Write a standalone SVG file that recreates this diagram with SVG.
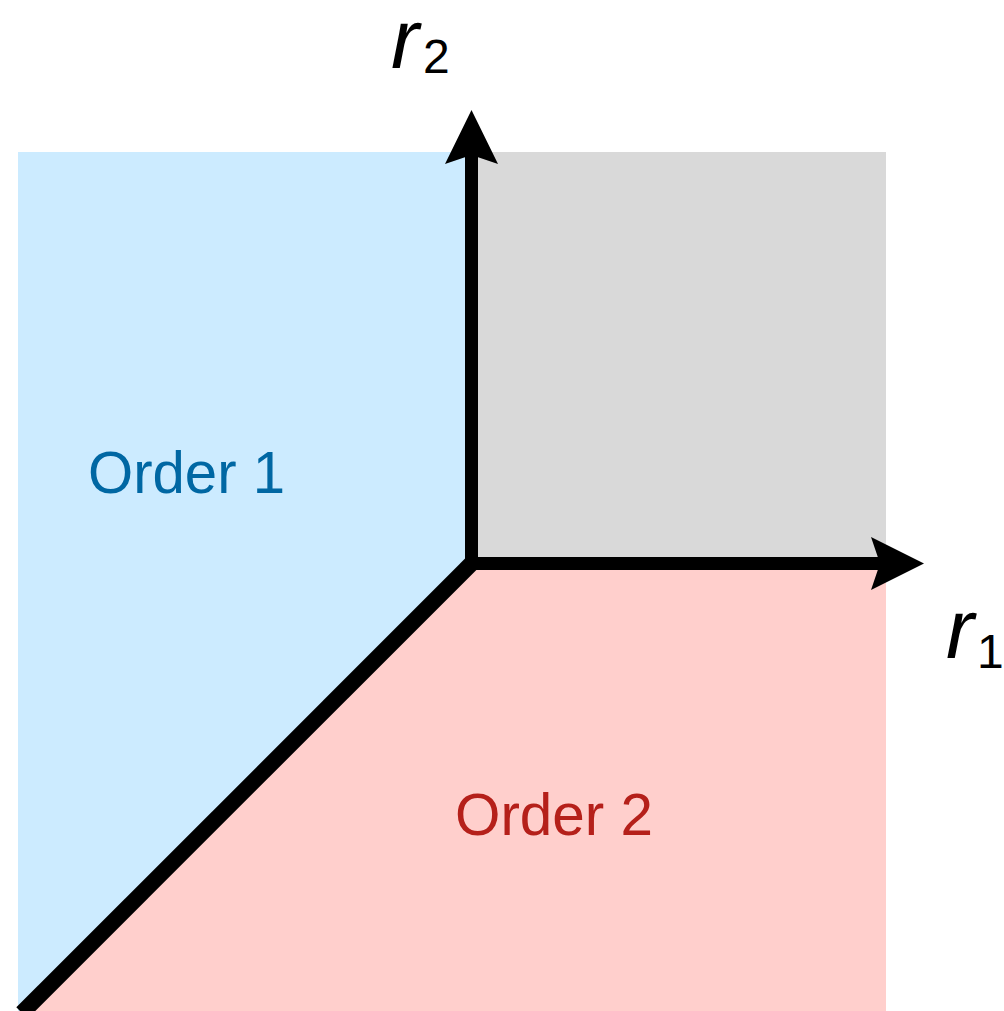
<svg xmlns="http://www.w3.org/2000/svg" width="1004" height="1011" viewBox="0 0 1004 1011">
<style>
.lbl{font-family:"Liberation Sans","DejaVu Sans",sans-serif;font-size:60px}
.var{font-family:"Liberation Sans","DejaVu Sans",sans-serif;font-style:italic;font-size:84px}
.sub{font-family:"Liberation Sans","DejaVu Sans",sans-serif;font-size:48px}
.ax{stroke:#000;stroke-width:13;fill:none}
</style>
<rect width="1004" height="1011" fill="#fff"/>
<g id="region-order1">
<rect x="18" y="152" width="455" height="859" fill="#CCEBFF"/>
<text class="lbl" x="88" y="493" fill="#0067A3" textLength="197" lengthAdjust="spacingAndGlyphs">Order 1</text>
</g>
<g id="region-none">
<rect x="471" y="152" width="415" height="412" fill="#D9D9D9"/>
</g>
<g id="region-order2">
<polygon points="471,564 886,564 886,1011 24,1011" fill="#FFCFCC"/>
<text class="lbl" x="455" y="835" fill="#B5201A" textLength="198" lengthAdjust="spacingAndGlyphs">Order 2</text>
</g>
<g id="connectors">
<line class="ax" x1="471.5" y1="570" x2="471.5" y2="150"/>
<polygon points="471.5,110 498,164 471.5,155 445,164" fill="#000"/>
<line class="ax" x1="465" y1="563.5" x2="885" y2="563.5"/>
<polygon points="924,563.5 871,537 880,563.5 871,590" fill="#000"/>
<line x1="474" y1="561" x2="22" y2="1013" stroke="#000" stroke-width="16"/>
</g>
<g id="label-r2">
<text x="391" y="68"><tspan class="var">r</tspan><tspan class="sub" x="423" y="73">2</tspan></text>
</g>
<g id="label-r1">
<text x="946" y="658"><tspan class="var">r</tspan><tspan class="sub" x="977" y="668">1</tspan></text>
</g>
</svg>
